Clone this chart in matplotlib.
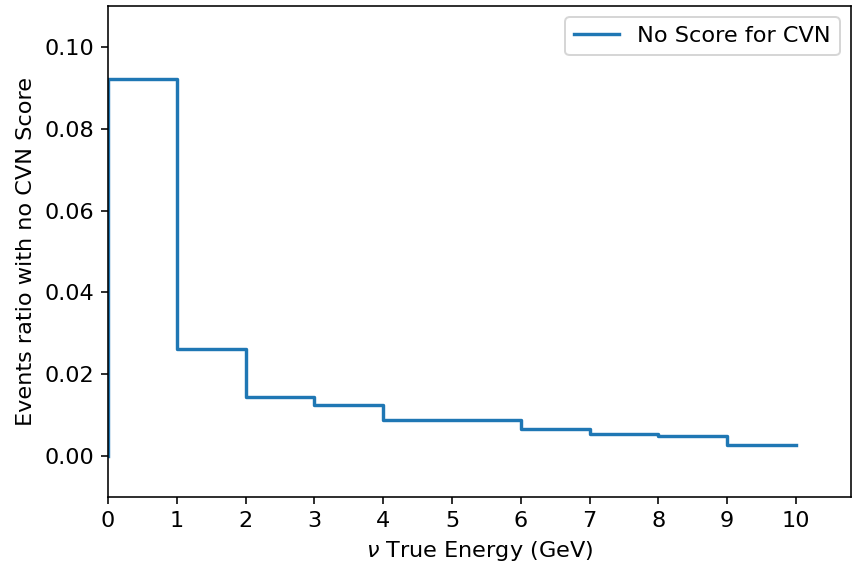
import numpy as np
import matplotlib.pyplot as plt

bin_edges = [0, 1, 2, 3, 4, 5, 6, 7, 8, 9, 10]
ratio = [0.0922, 0.0262, 0.01435, 0.01247, 0.00888, 0.00872, 0.0066, 0.00546, 0.00481, 0.0026]

# step line: rises from zero at x=0, no drop at the last edge
x = [bin_edges[0]] + bin_edges
y = [0.0] + ratio + [ratio[-1]]

plt.rcParams['font.size'] = 11.2

fig = plt.figure(figsize=(853 / 144, 567 / 144), dpi=144)
ax = fig.add_axes([0.1266, 0.1235, 0.871, 0.866])

ax.step(x, y, where='post', color='#1f77b4', linewidth=1.7, label='No Score for CVN')

ax.set_xlim(0, 10.8)
ax.set_ylim(-0.01, 0.11)
ax.set_xticks(range(0, 11))
ax.set_yticks([0.0, 0.02, 0.04, 0.06, 0.08, 0.10])
ax.set_yticklabels(['0.00', '0.02', '0.04', '0.06', '0.08', '0.10'])
ax.set_xlabel(r'$\nu$ True Energy (GeV)')
ax.set_ylabel('Events ratio with no CVN Score')
ax.legend(loc='upper right')

fig.savefig('out.png', dpi=144)
